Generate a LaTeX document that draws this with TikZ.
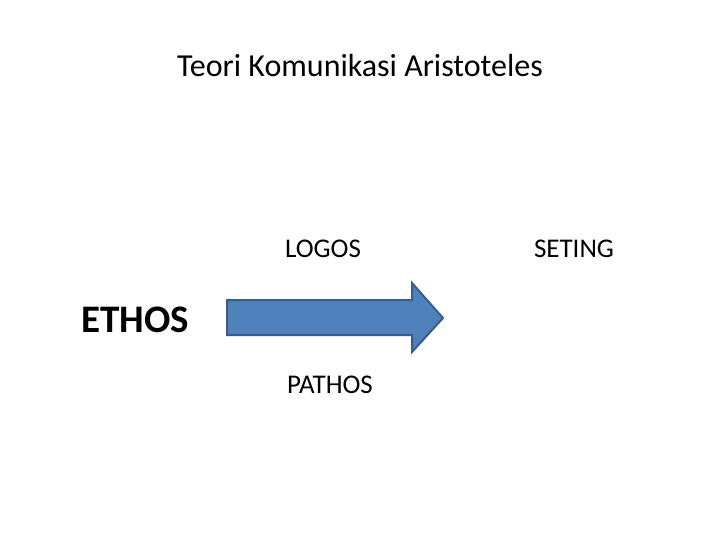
\documentclass[tikz,border=0pt]{standalone}
\usepackage{fontspec}
\setmainfont{Carlito}
\definecolor{arrowfill}{HTML}{4F81BD}
\definecolor{arrowline}{HTML}{385D8A}
\begin{document}
\begin{tikzpicture}[x=1pt,y=-1pt,
  lbl/.style={inner sep=0pt, anchor=base, font=\fontsize{27}{32}\selectfont}]
\useasboundingbox (0,0) rectangle (720,540);
\fill[white] (0,0) rectangle (720,540);
\node[inner sep=0pt, anchor=base, font=\fontsize{32}{38}\selectfont] (title) at (360,77) {Teori Komunikasi Aristoteles};
\node[lbl] (logos) at (323,258) {LOGOS};
\node[lbl] (seting) at (574,258) {SETING};
\node[lbl] (pathos) at (330,393) {PATHOS};
\node[inner sep=0pt, anchor=base, font=\fontsize{39}{46}\selectfont\bfseries] (ethos) at (135,332) {ETHOS};
\draw[fill=arrowfill, draw=arrowline, line width=2pt, line join=miter]
  (227,300) -- (412,300) -- (412,283) -- (443,318) -- (412,352) -- (412,335) -- (227,335) -- cycle;
\end{tikzpicture}
\end{document}
